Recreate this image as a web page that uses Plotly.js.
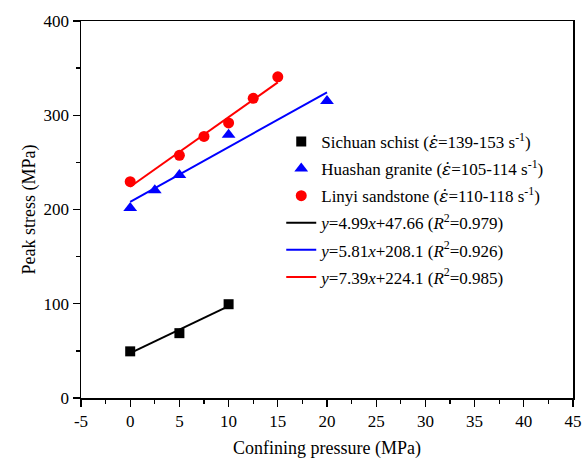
<!DOCTYPE html>
<html>
<head>
<meta charset="utf-8">
<script src="https://cdn.plot.ly/plotly-3.0.1.min.js"></script>
<style>
  html, body { margin: 0; padding: 0; background: #fff; }
  #chart { width: 587px; height: 459px; }
</style>
</head>
<body>
<div id="chart"></div>
<script>
// Measured peak stress versus confining pressure for three rock types
const schistPressure = [0, 5, 10];
const schistStress = [49.5, 68.8, 99.5];

const granitePressure = [0, 2.5, 5, 10, 20];
const graniteStress = [201.5, 220.3, 236.5, 279.3, 315];

const sandstonePressure = [0, 5, 7.5, 10, 12.5, 15];
const sandstoneStress = [229.5, 257.5, 277.5, 291.8, 318, 340.8];

// strain rate symbol: epsilon with a dot above
const EPS_DOT = '<span style="font-family:\'DejaVu Serif\'"><i>ε̇</i></span>';
const seriesNames = [
  'Sichuan schist (' + EPS_DOT + '=139-153 s<sup>-1</sup>)',
  'Huashan granite (' + EPS_DOT + '=105-114 s<sup>-1</sup>)',
  'Linyi sandstone (' + EPS_DOT + '=110-118 s<sup>-1</sup>)'
];

// Linear fits: stress = slope * pressure + intercept
const fitSlopes = [4.99, 5.81, 7.39];
const fitIntercepts = [47.66, 208.1, 224.1];
const fitR2 = ['0.979', '0.926', '0.985'];
const fitRanges = [[0, 10], [0, 20], [0, 15]];

const xTicks = [-5, 0, 5, 10, 15, 20, 25, 30, 35, 40, 45];
const yTicks = [0, 100, 200, 300, 400];

const colors = ['#000000', '#0000ff', '#ff0000'];
const symbols = ['square', 'triangle-up', 'circle'];
const markerSizes = [10, 12, 11];
const pressures = [schistPressure, granitePressure, sandstonePressure];
const stresses = [schistStress, graniteStress, sandstoneStress];

const FONT = 'Liberation Serif';
const traces = [];

// fit lines first so the markers sit on top
fitSlopes.forEach((m, i) => {
  const xs = fitRanges[i];
  traces.push({
    type: 'scatter', mode: 'lines',
    x: xs, y: xs.map(v => m * v + fitIntercepts[i]),
    line: { color: colors[i], width: 2 },
    name: '<i>y</i>=' + m.toFixed(2) + '<i>x</i>+' + fitIntercepts[i] +
          ' (<i>R</i><sup>2</sup>=' + fitR2[i] + ')',
    legendgroup: 'fit' + i,
    legendrank: 4 + i,
    hoverinfo: 'skip'
  });
});

seriesNames.forEach((name, i) => {
  traces.push({
    type: 'scatter', mode: 'markers',
    x: pressures[i], y: stresses[i],
    marker: { symbol: symbols[i], color: colors[i], size: markerSizes[i], line: { width: 0 } },
    name: name,
    legendgroup: 'data' + i,
    legendrank: 1 + i
  });
});

const layout = {
  width: 587, height: 459,
  margin: { l: 81, r: 14, t: 21, b: 61 },
  paper_bgcolor: '#ffffff', plot_bgcolor: '#ffffff',
  font: { family: FONT, size: 16, color: '#000' },
  showlegend: true,
  legend: {
    x: 0.407, xanchor: 'left', y: 0.727, yanchor: 'top',
    bgcolor: 'rgba(0,0,0,0)', borderwidth: 0,
    font: { family: FONT, size: 17, color: '#000' },
    traceorder: 'grouped', tracegroupgap: 2,
    itemwidth: 30
  },
  xaxis: {
    range: [-5, 45], tickvals: xTicks, ticktext: xTicks.map(String),
    ticks: 'outside', ticklen: 7, tickwidth: 1.3, tickcolor: '#000',
    showline: true, linecolor: '#000', linewidth: 1.5, mirror: true,
    showgrid: false, zeroline: false,
    minor: { dtick: 2.5, tick0: -5, ticks: 'outside', ticklen: 4, tickwidth: 1.3, tickcolor: '#000', showgrid: false },
    tickfont: { family: FONT, size: 17 },
    title: { text: 'Confining pressure (MPa)', font: { family: FONT, size: 18 }, standoff: 14 }
  },
  yaxis: {
    range: [0, 400], tickvals: yTicks, ticktext: yTicks.map(String),
    ticks: 'outside', ticklen: 7, tickwidth: 1.3, tickcolor: '#000',
    showline: true, linecolor: '#000', linewidth: 1.5, mirror: true,
    showgrid: false, zeroline: false,
    minor: { dtick: 50, tick0: 0, ticks: 'outside', ticklen: 4, tickwidth: 1.3, tickcolor: '#000', showgrid: false },
    tickfont: { family: FONT, size: 17 },
    title: { text: 'Peak stress (MPa)', font: { family: FONT, size: 18 }, standoff: 3 }
  }
};

Plotly.newPlot('chart', traces, layout, { displayModeBar: false, staticPlot: true });
</script>
</body>
</html>
